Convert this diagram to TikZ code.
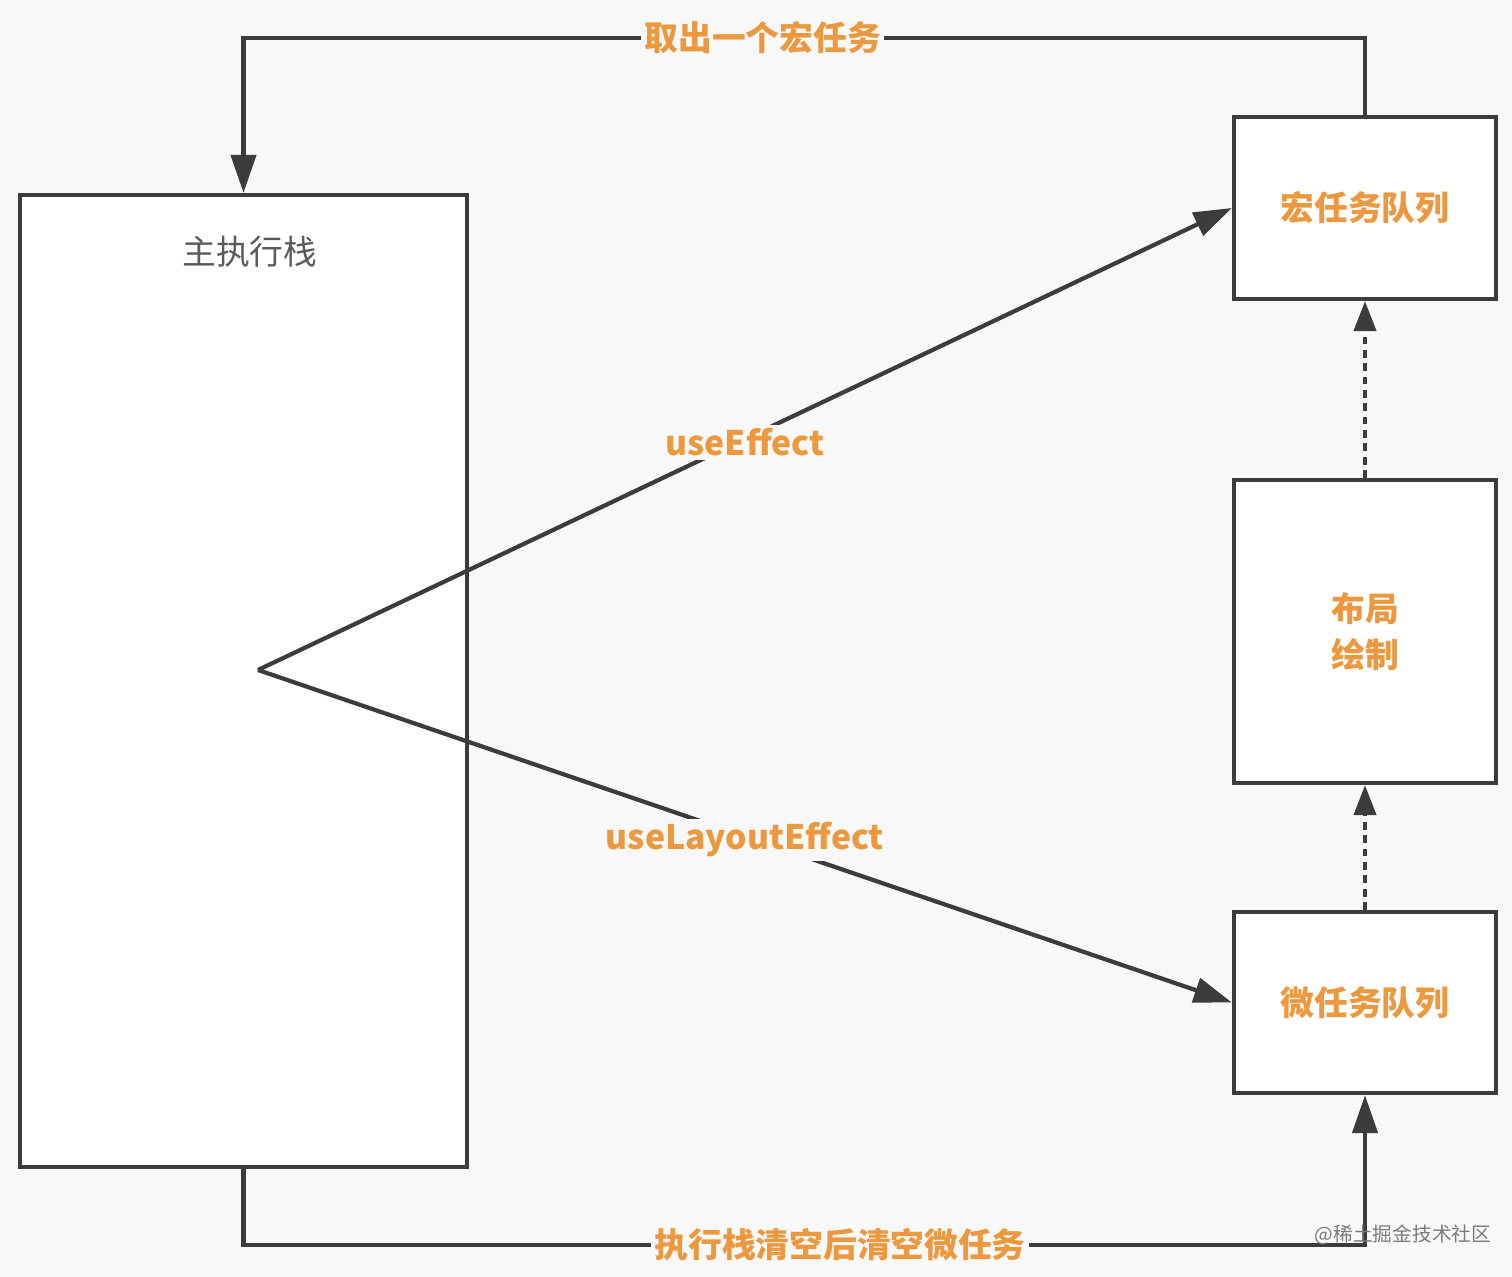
\documentclass[tikz,border=0pt]{standalone}
\usepackage{fontspec}
\usetikzlibrary{arrows.meta}
\newfontfamily\cjk{Noto Sans CJK SC}
\definecolor{bggray}{RGB}{248, 248, 248}
\definecolor{linegray}{RGB}{60, 60, 60}
\definecolor{taskorange}{RGB}{236, 152, 62}
\definecolor{textgray}{RGB}{90, 90, 90}

\begin{document}
\begin{tikzpicture}[
    box/.style={draw=linegray, line width=1.2pt, fill=white, minimum width=2.62cm},
    flow/.style={draw=linegray, line width=1.2pt, -{Triangle[length=0.38cm, width=0.25cm]}},
    later/.style={flow, dash pattern=on 2.2pt off 1.6pt, -{Triangle[length=0.3cm, width=0.22cm]}},
    tag/.style={fill=bggray, text=taskorange, inner sep=1pt, font=\cjk\bfseries\fontsize{9.6}{11}\selectfont}
]
                    \fill[bggray] (0,0) rectangle (15.12,-12.77);
                    \useasboundingbox (0,0) rectangle (15.12,-12.77);

                    \node[box, minimum width=4.47cm, minimum height=9.72cm] (stack) at (2.435,-6.81) {};
                    \node[text=textgray, font=\cjk\fontsize{9.6}{11}\selectfont] (stacktitle) at (2.50,-2.52) {主执行栈};
                    \node[box, minimum height=1.82cm, text=taskorange, font=\cjk\bfseries\fontsize{9.6}{11}\selectfont] (macro) at (13.65,-2.08) {宏任务队列};
                    \node[box, minimum height=3.03cm, text=taskorange, align=center, font=\cjk\bfseries\fontsize{9.6}{13}\selectfont] (layout) at (13.65,-6.315) {布局\\绘制};
                    \node[box, minimum height=1.81cm, text=taskorange, font=\cjk\bfseries\fontsize{9.6}{11}\selectfont] (micro) at (13.65,-10.025) {微任务队列};

                    \coordinate (apex) at (2.58,-6.70);
                    \coordinate (topl) at (2.435,-0.38);
                    \coordinate (topr) at (13.65,-0.38);
                    \coordinate (botl) at (2.435,-12.45);
                    \coordinate (botr) at (13.65,-12.45);

                    \draw[flow] (macro.north) -- (topr) -- node[tag, pos=0.537] (takemacro) {取出一个宏任务} (topl) -- (stack.north);
                    \draw[flow] (stack.south) -- (botl) -- node[tag, pos=0.532] (flushmicro) {执行栈清空后清空微任务} (botr) -- (micro.south);
                    \draw[flow] (apex) -- node[tag, pos=0.5, yshift=-1pt] (effect) {useEffect} (macro.west);
                    \draw[flow] (apex) -- node[tag, pos=0.5, yshift=-1pt] (layouteffect) {useLayoutEffect} (micro.west);
                    \draw[later] (micro.north) -- (layout.south);
                    \draw[later] (layout.north) -- (macro.south);

                    \node[text=textgray!80, font=\cjk\fontsize{5.6}{7}\selectfont] (mark) at (14.03,-12.35) {@稀土掘金技术社区};
                \end{tikzpicture}
\end{document}
